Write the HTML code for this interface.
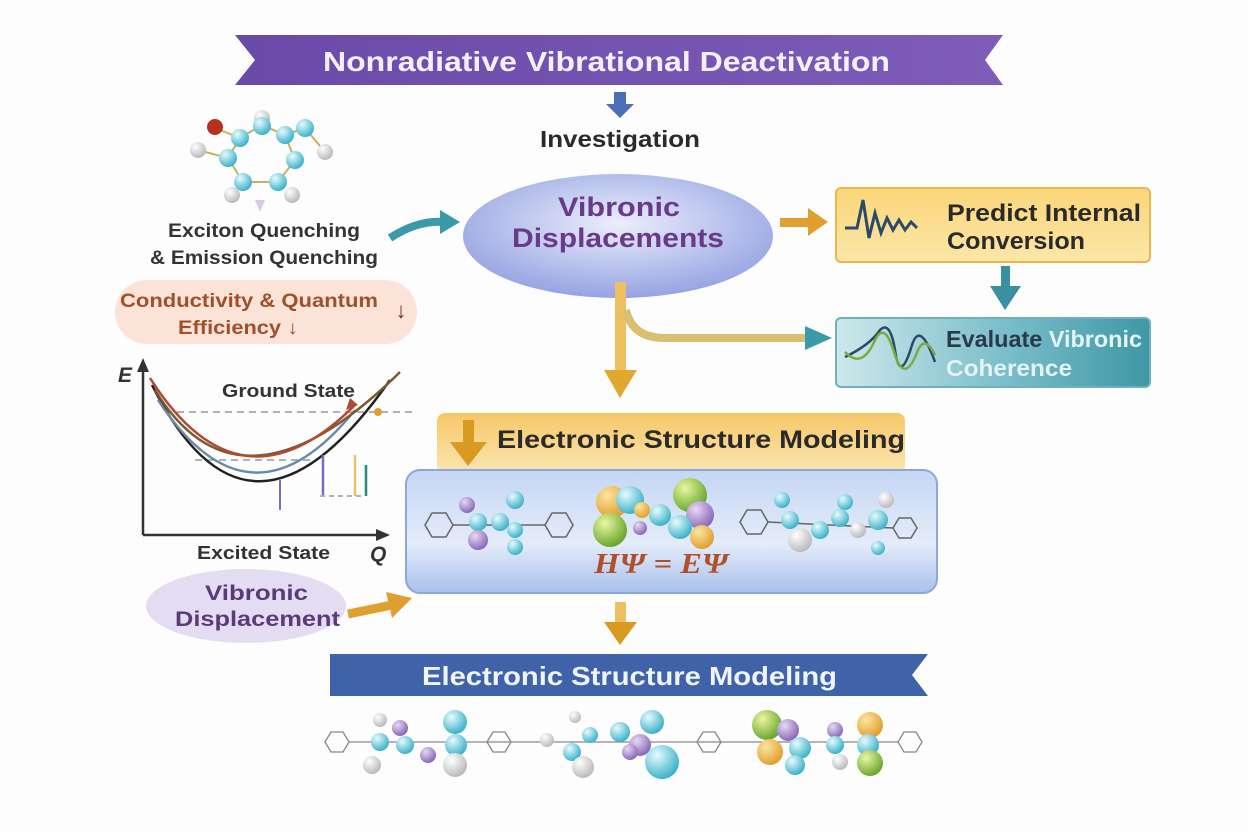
<!DOCTYPE html>
<html><head><meta charset="utf-8"><style>
html,body{margin:0;padding:0;background:#fdfdfd;}
svg{display:block;font-family:"Liberation Sans",sans-serif;}
</style></head><body>
<svg width="1248" height="832" viewBox="0 0 1248 832" xmlns="http://www.w3.org/2000/svg">
<defs>
<linearGradient id="pur" x1="0" x2="1"><stop offset="0" stop-color="#6a4aa8"/><stop offset="1" stop-color="#7e5cb8"/></linearGradient>
<radialGradient id="ell" cx="0.5" cy="0.4" r="0.6"><stop offset="0" stop-color="#eceefc"/><stop offset="1" stop-color="#95a4e2"/></radialGradient>
<linearGradient id="yel" x1="0" y1="0" x2="0" y2="1"><stop offset="0" stop-color="#fbd67a"/><stop offset="1" stop-color="#fbe7a8"/></linearGradient>
<linearGradient id="teal" x1="0" x2="1"><stop offset="0" stop-color="#cfe8ec"/><stop offset="0.5" stop-color="#7fc1cc"/><stop offset="1" stop-color="#3f97a6"/></linearGradient>
<linearGradient id="ybar" x1="0" y1="0" x2="0" y2="1"><stop offset="0" stop-color="#f6c768"/><stop offset="1" stop-color="#fbe6b2"/></linearGradient>
<linearGradient id="blu" x1="0" y1="0" x2="0" y2="1"><stop offset="0" stop-color="#c5d6f4"/><stop offset="0.6" stop-color="#e4ecfa"/><stop offset="1" stop-color="#a8c0ec"/></linearGradient>
<radialGradient id="at" cx="0.35" cy="0.3" r="0.7"><stop offset="0" stop-color="#e6fbff"/><stop offset="1" stop-color="#3fb3c9"/></radialGradient>
<radialGradient id="wh" cx="0.35" cy="0.3" r="0.7"><stop offset="0" stop-color="#fff"/><stop offset="1" stop-color="#bbb"/></radialGradient>
<radialGradient id="gr" cx="0.35" cy="0.3" r="0.7"><stop offset="0" stop-color="#eaf7a0"/><stop offset="1" stop-color="#6aa830"/></radialGradient>
<radialGradient id="pu" cx="0.35" cy="0.3" r="0.7"><stop offset="0" stop-color="#e8d8f4"/><stop offset="1" stop-color="#8a6ab8"/></radialGradient>
<radialGradient id="or" cx="0.35" cy="0.3" r="0.7"><stop offset="0" stop-color="#fde6a0"/><stop offset="1" stop-color="#e0a030"/></radialGradient>
</defs>

<!-- top banner -->
<path d="M235,35 L1003,35 L985,60 L1003,85 L235,85 L255,60 Z" fill="url(#pur)"/>
<text x="323" y="71" font-size="28" font-weight="bold" fill="#f4f0fb" textLength="567" lengthAdjust="spacingAndGlyphs">Nonradiative Vibrational Deactivation</text>
<path d="M614,92 h12 v12 h8 l-14,14 l-14,-14 h8 z" fill="#4a6fb8"/>
<text x="540" y="147" font-size="23" font-weight="bold" fill="#2a2a2a" textLength="160" lengthAdjust="spacingAndGlyphs">Investigation</text>

<!-- ellipse -->
<ellipse cx="618" cy="236" rx="155" ry="62" fill="url(#ell)"/>
<text x="558" y="216" font-size="27" font-weight="bold" fill="#6a3a8a" textLength="122" lengthAdjust="spacingAndGlyphs">Vibronic</text>
<text x="512" y="247" font-size="27" font-weight="bold" fill="#6a3a8a" textLength="212" lengthAdjust="spacingAndGlyphs">Displacements</text>

<!-- teal curved arrow -->
<path d="M390,238 Q418,220 444,222" stroke="#3a9aa8" stroke-width="8" fill="none"/>
<path d="M440,210 L460,222 L440,234 Z" fill="#3a9aa8"/>

<!-- orange arrow to predict -->
<rect x="780" y="218" width="30" height="9" fill="#e0a030"/>
<path d="M808,208 L828,222 L808,236 Z" fill="#e0a030"/>

<!-- predict box -->
<rect x="836" y="188" width="314" height="74" rx="5" fill="url(#yel)" stroke="#e8b850" stroke-width="2"/>
<path d="M845,228 h12 l6,-28 l6,38 l6,-25 l6,20 l6,-15 l6,12 l6,-10 l6,10 l6,-8 l6,6" stroke="#2a4a6a" stroke-width="3" fill="none"/>
<text x="947" y="221" font-size="24" font-weight="bold" fill="#2a2a2a" textLength="194" lengthAdjust="spacingAndGlyphs">Predict Internal</text>
<text x="947" y="249" font-size="24" font-weight="bold" fill="#2a2a2a" textLength="138" lengthAdjust="spacingAndGlyphs">Conversion</text>

<!-- teal down arrow -->
<rect x="1001" y="266" width="9" height="22" fill="#3a8fa0"/>
<path d="M990,286 L1021,286 L1005,310 Z" fill="#3a8fa0"/>

<!-- evaluate box -->
<rect x="836" y="318" width="314" height="69" rx="5" fill="url(#teal)" stroke="#6fb0be" stroke-width="2"/>
<path d="M845,357 Q870,345 880,330 Q890,320 895,350 Q900,385 912,345 Q920,320 935,362" stroke="#2a4a6a" stroke-width="2.5" fill="none"/>
<path d="M845,352 Q862,370 875,340 Q885,320 895,355 Q905,385 918,350 Q925,335 935,355" stroke="#7aaa40" stroke-width="2.5" fill="none"/>
<text x="946" y="347" font-size="23" font-weight="bold" fill="#2a3a4a" textLength="196" lengthAdjust="spacingAndGlyphs">Evaluate <tspan fill="#e4f4f7">Vibronic</tspan></text>
<text x="946" y="376" font-size="23" font-weight="bold" fill="#e4f2f4" textLength="126" lengthAdjust="spacingAndGlyphs">Coherence</text>

<!-- gold vertical + branch -->
<rect x="615" y="282" width="11" height="90" fill="#ecc060"/>
<path d="M604,370 L637,370 L620,398 Z" fill="#e0a830"/>
<path d="M626,310 Q632,338 665,338 L810,338" stroke="#d8c070" stroke-width="8" fill="none"/>
<path d="M805,326 L832,338 L805,350 Z" fill="#3a9aa8"/>

<!-- yellow bar -->
<rect x="437" y="413" width="468" height="62" rx="8" fill="url(#ybar)"/>
<rect x="463" y="420" width="11" height="24" fill="#d89a20"/>
<path d="M450,442 L487,442 L468,466 Z" fill="#d89a20"/>
<text x="497" y="448" font-size="25" font-weight="bold" fill="#2a2a2a" textLength="408" lengthAdjust="spacingAndGlyphs">Electronic Structure Modeling</text>

<!-- blue box -->
<rect x="406" y="470" width="531" height="123" rx="14" fill="url(#blu)" stroke="#8aa8dc" stroke-width="2"/>
<g stroke="#666" stroke-width="1.5" fill="none">
<polygon points="425,525 432,513 446,513 453,525 446,537 432,537"/>
<polygon points="545,525 552,513 566,513 573,525 566,537 552,537"/>
<polygon points="740,522 747,510 761,510 768,522 761,534 747,534"/>
<polygon points="893,528 899,518 911,518 917,528 911,538 899,538"/>
<line x1="453" y1="525" x2="545" y2="525"/><line x1="768" y1="522" x2="893" y2="528"/>
</g>
<circle cx="467" cy="505" r="8" fill="url(#pu)"/><circle cx="515" cy="500" r="9" fill="url(#at)"/>
<circle cx="478" cy="522" r="9" fill="url(#at)"/><circle cx="500" cy="522" r="9" fill="url(#at)"/>
<circle cx="478" cy="540" r="10" fill="url(#pu)"/><circle cx="515" cy="530" r="8" fill="url(#at)"/><circle cx="515" cy="547" r="8" fill="url(#at)"/>
<circle cx="612" cy="502" r="16" fill="url(#or)"/><circle cx="630" cy="500" r="14" fill="url(#at)"/>
<circle cx="610" cy="530" r="17" fill="url(#gr)"/><circle cx="642" cy="510" r="8" fill="url(#or)"/>
<circle cx="660" cy="515" r="11" fill="url(#at)"/><circle cx="640" cy="528" r="7" fill="url(#pu)"/>
<circle cx="690" cy="495" r="17" fill="url(#gr)"/><circle cx="700" cy="515" r="14" fill="url(#pu)"/>
<circle cx="680" cy="527" r="12" fill="url(#at)"/><circle cx="702" cy="537" r="12" fill="url(#or)"/>
<circle cx="782" cy="500" r="8" fill="url(#at)"/><circle cx="790" cy="520" r="9" fill="url(#at)"/>
<circle cx="800" cy="540" r="12" fill="url(#wh)"/><circle cx="820" cy="530" r="9" fill="url(#at)"/>
<circle cx="845" cy="502" r="8" fill="url(#at)"/><circle cx="840" cy="518" r="9" fill="url(#at)"/>
<circle cx="886" cy="500" r="8" fill="url(#wh)"/><circle cx="878" cy="520" r="10" fill="url(#at)"/>
<circle cx="858" cy="530" r="8" fill="url(#wh)"/><circle cx="878" cy="548" r="7" fill="url(#at)"/>
<text x="594" y="573" font-size="28" font-weight="bold" font-style="italic" font-family="Liberation Serif,serif" fill="#b0502a" textLength="134" lengthAdjust="spacingAndGlyphs">HΨ = EΨ</text>

<!-- down arrow -->
<rect x="615" y="602" width="11" height="22" fill="#ecc060"/>
<path d="M604,622 L637,622 L620,645 Z" fill="#d89a20"/>

<!-- bottom banner -->
<path d="M330,654 L928,654 L912,675 L928,696 L330,696 Z" fill="#3f62a8"/>
<text x="422" y="685" font-size="26" font-weight="bold" fill="#f0f4fb" textLength="415" lengthAdjust="spacingAndGlyphs">Electronic Structure Modeling</text>

<!-- bottom molecules -->
<g stroke="#888" stroke-width="1.3" fill="none">
<polygon points="325,742 331,732 343,732 349,742 343,752 331,752"/>
<polygon points="487,742 493,732 505,732 511,742 505,752 493,752"/>
<polygon points="697,742 703,732 715,732 721,742 715,752 703,752"/>
<polygon points="898,742 904,732 916,732 922,742 916,752 904,752"/>
<line x1="349" y1="742" x2="898" y2="742"/>
</g>
<circle cx="380" cy="720" r="7" fill="url(#wh)"/><circle cx="400" cy="728" r="8" fill="url(#pu)"/>
<circle cx="380" cy="742" r="9" fill="url(#at)"/><circle cx="405" cy="745" r="9" fill="url(#at)"/>
<circle cx="428" cy="755" r="8" fill="url(#pu)"/><circle cx="455" cy="722" r="12" fill="url(#at)"/>
<circle cx="456" cy="745" r="11" fill="url(#at)"/><circle cx="455" cy="765" r="12" fill="url(#wh)"/>
<circle cx="372" cy="765" r="9" fill="url(#wh)"/>
<circle cx="547" cy="740" r="7" fill="url(#wh)"/><circle cx="575" cy="717" r="6" fill="url(#wh)"/>
<circle cx="590" cy="735" r="8" fill="url(#at)"/><circle cx="572" cy="752" r="9" fill="url(#at)"/>
<circle cx="583" cy="767" r="11" fill="url(#wh)"/><circle cx="620" cy="732" r="10" fill="url(#at)"/>
<circle cx="652" cy="722" r="12" fill="url(#at)"/><circle cx="640" cy="745" r="11" fill="url(#pu)"/>
<circle cx="630" cy="752" r="8" fill="url(#pu)"/><circle cx="662" cy="762" r="17" fill="url(#at)"/>
<circle cx="767" cy="725" r="15" fill="url(#gr)"/><circle cx="788" cy="730" r="11" fill="url(#pu)"/>
<circle cx="770" cy="752" r="13" fill="url(#or)"/><circle cx="800" cy="748" r="11" fill="url(#at)"/>
<circle cx="795" cy="765" r="10" fill="url(#at)"/><circle cx="835" cy="730" r="8" fill="url(#pu)"/>
<circle cx="835" cy="745" r="9" fill="url(#at)"/><circle cx="840" cy="762" r="8" fill="url(#wh)"/>
<circle cx="870" cy="725" r="13" fill="url(#or)"/><circle cx="868" cy="745" r="11" fill="url(#at)"/>
<circle cx="870" cy="763" r="13" fill="url(#gr)"/>

<!-- left molecule -->
<g stroke="#c8b060" stroke-width="2">
<line x1="215" y1="128" x2="240" y2="138"/><line x1="240" y1="138" x2="262" y2="125"/><line x1="262" y1="125" x2="285" y2="135"/>
<line x1="285" y1="135" x2="305" y2="128"/><line x1="305" y1="128" x2="325" y2="152"/><line x1="285" y1="135" x2="295" y2="160"/>
<line x1="295" y1="160" x2="278" y2="182"/><line x1="278" y1="182" x2="243" y2="182"/><line x1="243" y1="182" x2="228" y2="158"/>
<line x1="228" y1="158" x2="240" y2="138"/><line x1="228" y1="158" x2="198" y2="150"/>
</g>
<circle cx="262" cy="118" r="8" fill="url(#wh)"/>
<circle cx="198" cy="150" r="8" fill="url(#wh)"/><circle cx="325" cy="152" r="8" fill="url(#wh)"/>
<circle cx="232" cy="195" r="8" fill="url(#wh)"/><circle cx="292" cy="195" r="8" fill="url(#wh)"/>
<circle cx="215" cy="127" r="8" fill="#b83020"/>
<circle cx="240" cy="138" r="9" fill="url(#at)"/><circle cx="262" cy="126" r="9" fill="url(#at)"/>
<circle cx="285" cy="135" r="9" fill="url(#at)"/><circle cx="305" cy="128" r="9" fill="url(#at)"/>
<circle cx="295" cy="160" r="9" fill="url(#at)"/><circle cx="278" cy="182" r="9" fill="url(#at)"/>
<circle cx="243" cy="182" r="9" fill="url(#at)"/><circle cx="228" cy="158" r="9" fill="url(#at)"/>
<path d="M255,200 L265,200 L260,212 Z" fill="#d8c8ec"/>
<text x="168" y="237" font-size="19" font-weight="bold" fill="#333" textLength="192" lengthAdjust="spacingAndGlyphs">Exciton Quenching</text>
<text x="150" y="264" font-size="19" font-weight="bold" fill="#333" textLength="228" lengthAdjust="spacingAndGlyphs">&amp; Emission Quenching</text>

<!-- pink pill -->
<rect x="115" y="280" width="302" height="64" rx="32" fill="#fbe3d8"/>
<text x="120" y="307" font-size="19" font-weight="bold" fill="#a0502a" textLength="258" lengthAdjust="spacingAndGlyphs">Conductivity &amp; Quantum</text>
<text x="178" y="334" font-size="19" font-weight="bold" fill="#a0502a" textLength="120" lengthAdjust="spacingAndGlyphs">Efficiency ↓</text>
<text x="401" y="318" text-anchor="middle" font-size="22" font-weight="bold" fill="#6a3020">↓</text>

<!-- graph -->
<line x1="143" y1="535" x2="143" y2="368" stroke="#333" stroke-width="2.5"/>
<path d="M137,372 L143,358 L149,372 Z" fill="#333"/>
<line x1="143" y1="535" x2="380" y2="535" stroke="#333" stroke-width="2.5"/>
<path d="M376,529 L390,535 L376,541 Z" fill="#333"/>
<text x="118" y="382" font-size="21" font-weight="bold" font-style="italic" fill="#333">E</text>
<text x="370" y="561" font-size="21" font-weight="bold" font-style="italic" fill="#333">Q</text>
<text x="222" y="397" font-size="18" font-weight="bold" fill="#333" textLength="133" lengthAdjust="spacingAndGlyphs">Ground State</text>
<text x="197" y="559" font-size="18" font-weight="bold" fill="#333" textLength="133" lengthAdjust="spacingAndGlyphs">Excited State</text>
<line x1="165" y1="412" x2="415" y2="412" stroke="#999" stroke-width="1.5" stroke-dasharray="7,5"/>
<line x1="195" y1="460" x2="310" y2="460" stroke="#999" stroke-width="1.5" stroke-dasharray="7,5"/>
<line x1="320" y1="496" x2="365" y2="496" stroke="#999" stroke-width="1.5" stroke-dasharray="5,4"/>
<path d="M152,385 Q250,580 390,380" stroke="#222" stroke-width="2.5" fill="none"/>
<path d="M158,400 Q250,540 355,410" stroke="#6a8aa8" stroke-width="2.5" fill="none"/>
<path d="M155,390 Q240,530 400,372" stroke="#7a5a30" stroke-width="2.5" fill="none"/>
<path d="M150,378 Q240,520 355,405" stroke="#b04a30" stroke-width="2.5" fill="none"/>
<path d="M350,398 L358,405 L346,410 Z" fill="#b04a30"/>
<circle cx="378" cy="412" r="4" fill="#e0a030"/>
<line x1="323" y1="455" x2="323" y2="495" stroke="#7a6ac0" stroke-width="2.5"/>
<line x1="355" y1="455" x2="355" y2="496" stroke="#e8c070" stroke-width="2.5"/>
<line x1="366" y1="465" x2="366" y2="496" stroke="#2a8a7a" stroke-width="2.5"/>
<line x1="280" y1="480" x2="280" y2="510" stroke="#7a6ac0" stroke-width="2"/>

<!-- vibronic displacement ellipse -->
<ellipse cx="246" cy="606" rx="100" ry="37" fill="#e4dcf2"/>
<text x="205" y="600" font-size="21" font-weight="bold" fill="#5a3a78" textLength="103" lengthAdjust="spacingAndGlyphs">Vibronic</text>
<text x="175" y="626" font-size="21" font-weight="bold" fill="#5a3a78" textLength="165" lengthAdjust="spacingAndGlyphs">Displacement</text>
<path d="M348,614 L392,605" stroke="#e0a030" stroke-width="9"/>
<path d="M386,592 L412,598 L392,618 Z" fill="#e0a030"/>
</svg>
</body></html>
